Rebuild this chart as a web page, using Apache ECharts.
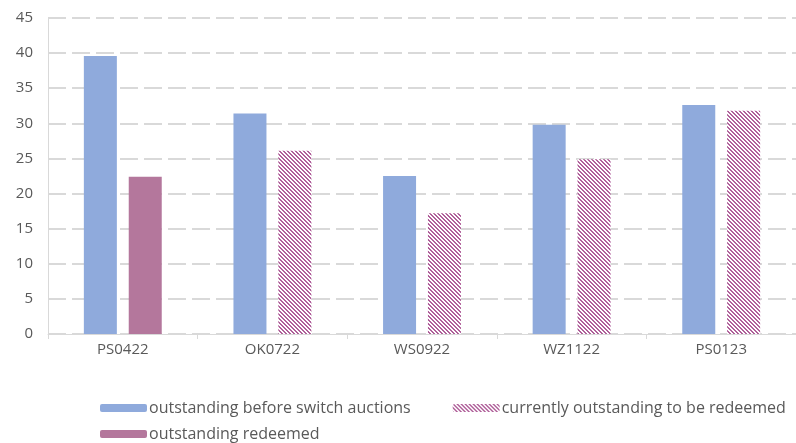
<!DOCTYPE html>
<html>
<head>
<meta charset="utf-8">
<script src="https://cdn.jsdelivr.net/npm/echarts@6/dist/echarts.min.js"></script>
<style>
  html, body { margin: 0; padding: 0; background: #fff; }
  #main { width: 796px; height: 443px; }
</style>
</head>
<body>
<div id="main"></div>
<script>
var categories = ['PS0422', 'OK0722', 'WS0922', 'WZ1122', 'PS0123'];
var beforeSwitch = [39.6, 31.4, 22.5, 29.8, 32.6];
var toBeRedeemed = [null, 26.1, 17.2, 24.9, 31.8];
var redeemed = [22.4, null, null, null, null];

// diagonal hatch for the "to be redeemed" bars
function hatch() {
  var c = document.createElement('canvas');
  c.width = 4;
  c.height = 4;
  var ctx = c.getContext('2d');
  ctx.fillStyle = '#ffffff';
  ctx.fillRect(0, 0, 4, 4);
  ctx.fillStyle = '#b0609a';
  for (var x = 0; x < 4; x++) {
    for (var y = 0; y < 4; y++) {
      var d = ((x - y) % 4 + 4) % 4;
      if (d === 0 || d === 1) ctx.fillRect(x, y, 1, 1);
    }
  }
  return c;
}

var chartDom = document.getElementById('main');
var myChart = echarts.init(chartDom);
var font = '"Open Sans", sans-serif';
var legendText = { color: '#595959', fontSize: 16, fontFamily: font, padding: [0, 0, 0, -3] };
var option = {
  animation: false,
  grid: { left: 48, right: 0, top: 18, bottom: 109 },
  legend: [
    {
      left: 95,
      top: 395,
      itemWidth: 47,
      itemHeight: 8,
      itemGap: 42,
      textStyle: legendText,
      data: ['outstanding before switch auctions', 'currently outstanding to be redeemed']
    },
    {
      left: 95,
      top: 421,
      itemWidth: 47,
      itemHeight: 8,
      textStyle: legendText,
      data: ['outstanding redeemed']
    }
  ],
  xAxis: {
    type: 'category',
    data: categories,
    axisLine: { lineStyle: { color: '#d9d9d9', width: 1 } },
    axisTick: { show: true, length: 5, lineStyle: { color: '#d9d9d9' } },
    axisLabel: { color: '#595959', fontSize: 15, fontFamily: font, margin: 8 }
  },
  yAxis: {
    type: 'value',
    min: 0,
    max: 45,
    interval: 5,
    axisLine: { show: true, lineStyle: { color: '#d9d9d9' } },
    axisTick: { show: false },
    axisLabel: { color: '#595959', fontSize: 15, fontFamily: font, margin: 15 },
    splitLine: { lineStyle: { color: '#d9d9d9', width: 2, type: [18, 6] } }
  },
  series: [
    {
      name: 'outstanding before switch auctions',
      type: 'bar',
      barWidth: 33,
      barGap: '36%',
      itemStyle: { color: '#8faadc' },
      data: beforeSwitch
    },
    {
      name: 'currently outstanding to be redeemed',
      type: 'bar',
      stack: 'r',
      barWidth: 33,
      itemStyle: { color: { image: hatch(), repeat: 'repeat' } },
      data: toBeRedeemed
    },
    {
      name: 'outstanding redeemed',
      type: 'bar',
      stack: 'r',
      barWidth: 33,
      itemStyle: { color: '#b4779c' },
      data: redeemed
    }
  ]
};

option && myChart.setOption(option);
</script>
</body>
</html>
